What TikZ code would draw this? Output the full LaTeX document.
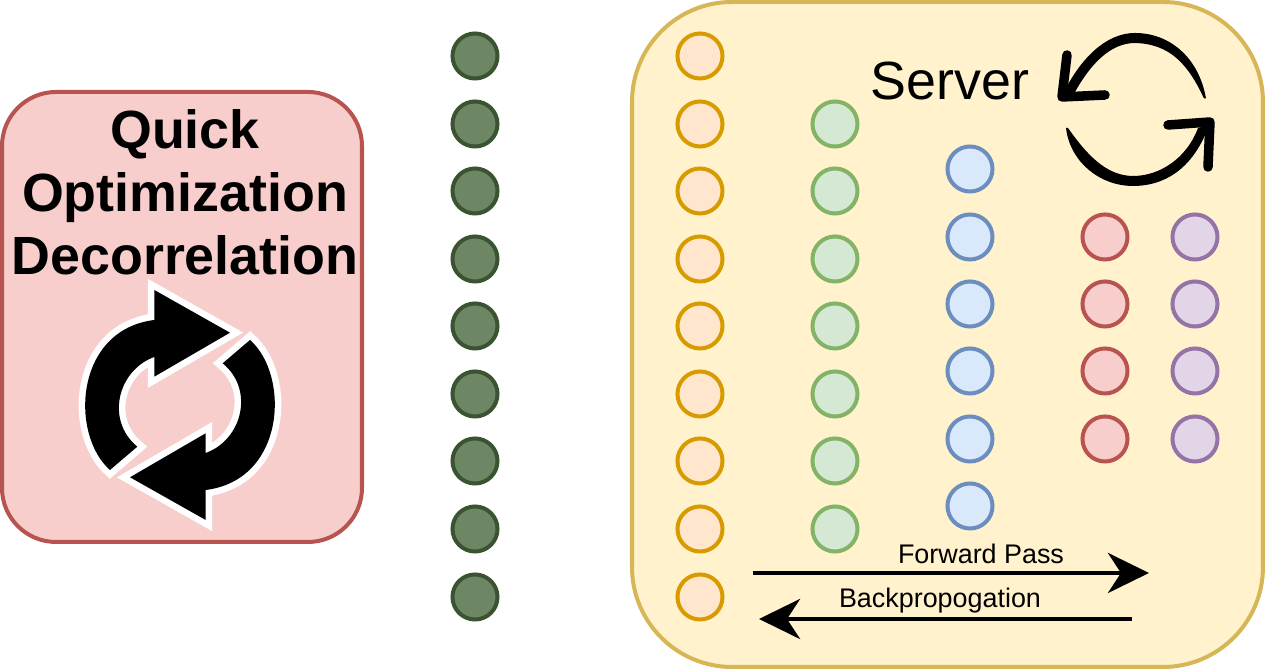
\documentclass[tikz,border=0pt]{standalone}
\usepackage{fontspec}
\setmainfont{Liberation Sans}
\usetikzlibrary{arrows.meta}
\definecolor{orangefill}{HTML}{FFE6CC}
\definecolor{orangeline}{HTML}{D79B00}
\definecolor{greenfill}{HTML}{D5E8D4}
\definecolor{greenline}{HTML}{82B366}
\definecolor{bluefill}{HTML}{DAE8FC}
\definecolor{blueline}{HTML}{6C8EBF}
\definecolor{redfill}{HTML}{F8CECC}
\definecolor{redline}{HTML}{B85450}
\definecolor{purplefill}{HTML}{E1D5E7}
\definecolor{purpleline}{HTML}{9673A6}
\definecolor{serverfill}{HTML}{FFF2CC}
\definecolor{serverline}{HTML}{D6B656}
\definecolor{datafill}{HTML}{6D8764}
\definecolor{dataline}{HTML}{3A5431}
\tikzset{
  unit/.style={circle,minimum size=0.45cm,inner sep=0pt,line width=0.04cm},
  passarrow/.style={line width=0.045cm,-{Stealth[length=0.41cm,width=0.4cm,inset=0.13cm]}},
  passlabel/.style={font=\fontsize{7.65}{9}\selectfont,inner sep=0pt},
  sketchhead/.style={line width=0.095cm,line cap=round,line join=round}
}
\begin{document}
\begin{tikzpicture}[x=0.01cm,y=-0.01cm]
\useasboundingbox (0,0) rectangle (1265,671);

\draw[fill=redfill,draw=redline,line width=0.04cm,rounded corners=0.54cm] (2,92) rectangle (362,542);
\draw[fill=serverfill,draw=serverline,line width=0.04cm,rounded corners=1.0cm] (632,2) rectangle (1263,667);

\node[font=\fontsize{15.3}{17.9}\selectfont\bfseries,align=center,inner sep=0pt] (title) at (185,192.5) {Quick\\Optimization\\Decorrelation};
\node[font=\fontsize{15.3}{18}\selectfont,inner sep=0pt] (server) at (950,81) {Server};

% input column and layers
\foreach \y [count=\i] in {56,124,191,259,326,394,461,529,597} {
  \node[unit,fill=datafill,draw=dataline] (data\i) at (475,\y) {};
  \node[unit,fill=orangefill,draw=orangeline] (in\i) at (700,\y) {};
}
\foreach \y [count=\i] in {124,191,259,326,394,461,529}
  \node[unit,fill=greenfill,draw=greenline] (hida\i) at (835,\y) {};
\foreach \y [count=\i] in {169,237,304,371,439,506}
  \node[unit,fill=bluefill,draw=blueline] (hidb\i) at (970,\y) {};
\foreach \y [count=\i] in {237,304,371,439} {
  \node[unit,fill=redfill,draw=redline] (hidc\i) at (1105,\y) {};
  \node[unit,fill=purplefill,draw=purpleline] (out\i) at (1195,\y) {};
}

% pass arrows
\coordinate (F0) at (753,573);
\coordinate (F1) at (1149,573);
\coordinate (B0) at (1132,619);
\coordinate (B1) at (759,619);
\draw[passarrow] (F0) -- (F1);
\draw[passarrow] (B0) -- (B1);
\node[passlabel] (forward) at (981,554) {Forward Pass};
\node[passlabel] (back) at (940,601) {Backpropogation};

% optimization cycle
\foreach \ang in {0,180} {
  \fill[black,rotate around={\ang:(180,405)},miter limit=10,preaction={draw=white,line width=0.13cm,line join=miter}]
    (154.3,290) -- (230,332.7) -- (154.3,376.7) -- (154.3,357)
    .. controls (118,370) and (105,420) .. (137.3,446.7)
    -- (110,470)
    .. controls (70,435) and (74,330) .. (154.3,320) -- cycle;
}

% server cycle
\fill (1206,98.5) .. controls (1199,58) and (1170,33) .. (1135,33)
  .. controls (1105,33) and (1080,60) .. (1064,92) -- (1075,92)
  .. controls (1090,65) and (1110,43) .. (1135,43)
  .. controls (1170,44) and (1188,64) .. (1204,98.5) -- cycle;
\draw[sketchhead] (1067,55) -- (1062,97) -- (1105,95);
\fill (1066,128) .. controls (1070,162) and (1100,186) .. (1133,186)
  .. controls (1168,186) and (1195,165) .. (1209,125) -- (1198,128)
  .. controls (1187,158) and (1160,176) .. (1133,176)
  .. controls (1105,176) and (1085,152) .. (1068,128) -- cycle;
\draw[sketchhead] (1168,125) -- (1210,122) -- (1208,167);
\end{tikzpicture}
\end{document}
